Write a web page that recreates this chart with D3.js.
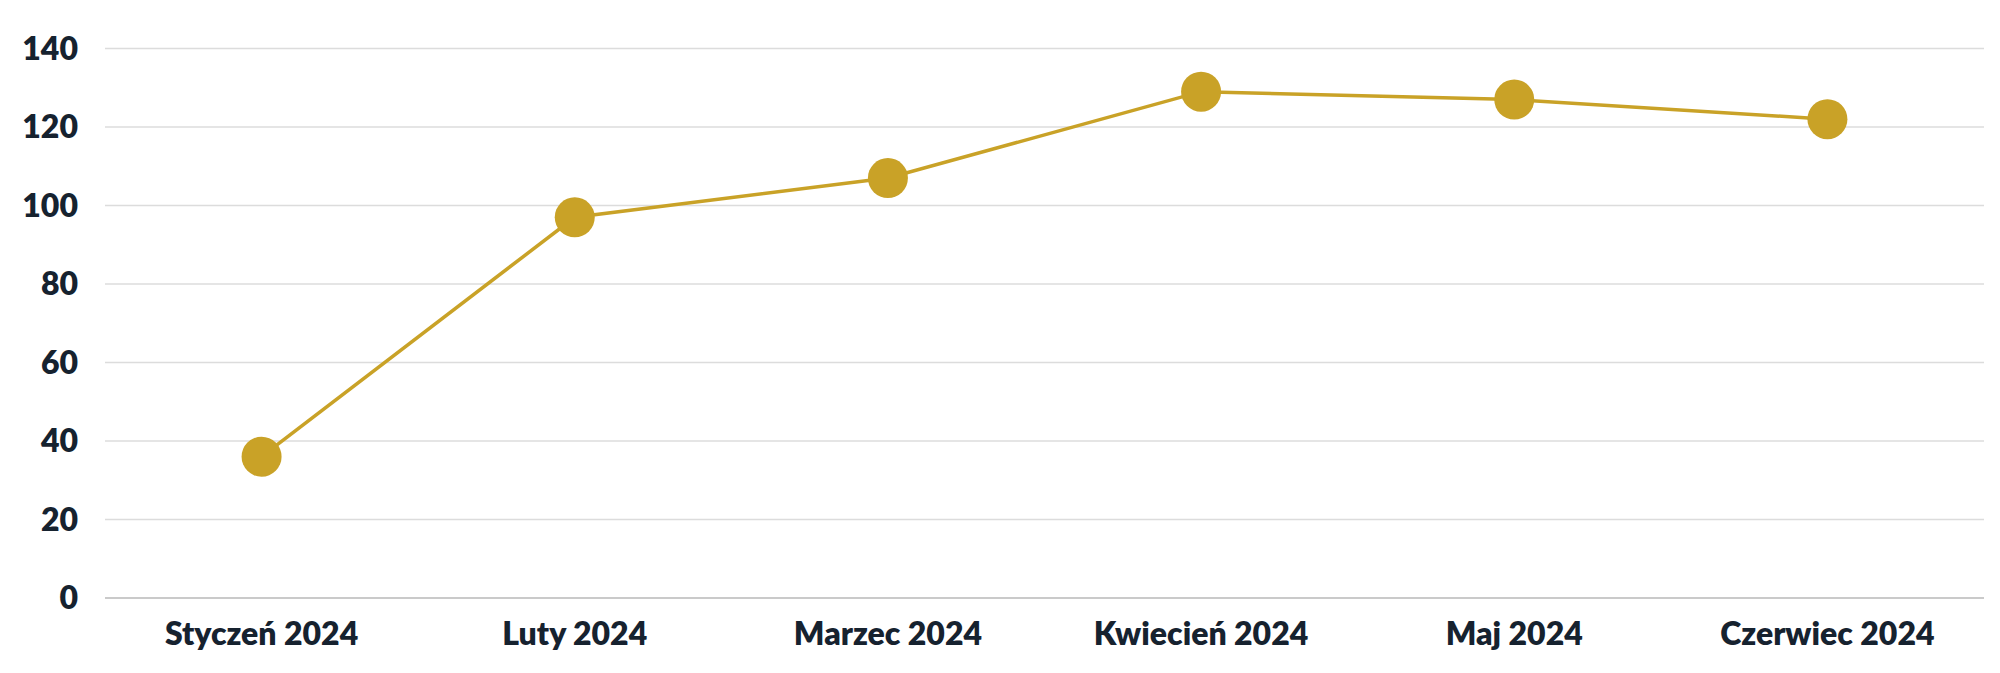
<!DOCTYPE html>
<html><head><meta charset="utf-8">
<script src="https://cdn.jsdelivr.net/npm/d3@7"></script>
<style>body{margin:0;background:#fff}svg{display:block}</style>
</head><body><svg id="c" width="2000" height="673"></svg>
<script>
const categories = ["Styczeń 2024","Luty 2024","Marzec 2024","Kwiecień 2024","Maj 2024","Czerwiec 2024"];
const values = [36, 97, 107, 129, 127, 122];
const yTicks = [0,20,40,60,80,100,120,140];

const svg = d3.select("#c");
const L = 105, R = 1984, T = 48.5, B = 598;
const x = d3.scaleBand().domain(categories).range([L, R]);
const y = d3.scaleLinear().domain([0, 140]).range([B, T]);
const font = "Lato, 'Open Sans', sans-serif";
const txt = "#16222f";

svg.append("g").selectAll("line").data(yTicks.filter(d => d > 0)).join("line")
  .attr("x1", L).attr("x2", R).attr("y1", d => y(d)).attr("y2", d => y(d))
  .attr("stroke", "#dcdcdc").attr("stroke-width", 1.3);
svg.append("line").attr("x1", L).attr("x2", R).attr("y1", y(0)).attr("y2", y(0))
  .attr("stroke", "#b8b8b8").attr("stroke-width", 1.3);

svg.append("g").selectAll("text").data(yTicks).join("text")
  .attr("x", 78).attr("y", d => y(d)).attr("dy", "0.35em").attr("text-anchor", "end")
  .attr("font-family", font).attr("font-weight", 800).attr("font-size", 32).attr("fill", txt)
  .text(d => d);

svg.append("g").selectAll("text").data(categories).join("text")
  .attr("x", d => x(d) + x.bandwidth() / 2).attr("y", 634).attr("dy", "0.35em").attr("text-anchor", "middle")
  .attr("font-family", font).attr("font-weight", 800).attr("font-size", 32).attr("fill", txt)
  .text(d => d);

const cx = (d, i) => x(categories[i]) + x.bandwidth() / 2;
svg.append("path").datum(values)
  .attr("d", d3.line().x(cx).y(d => y(d)))
  .attr("fill", "none").attr("stroke", "#c9a227").attr("stroke-width", 3.5);
svg.append("g").selectAll("circle").data(values).join("circle")
  .attr("cx", cx).attr("cy", d => y(d)).attr("r", 20).attr("fill", "#c9a227");
</script></body></html>
